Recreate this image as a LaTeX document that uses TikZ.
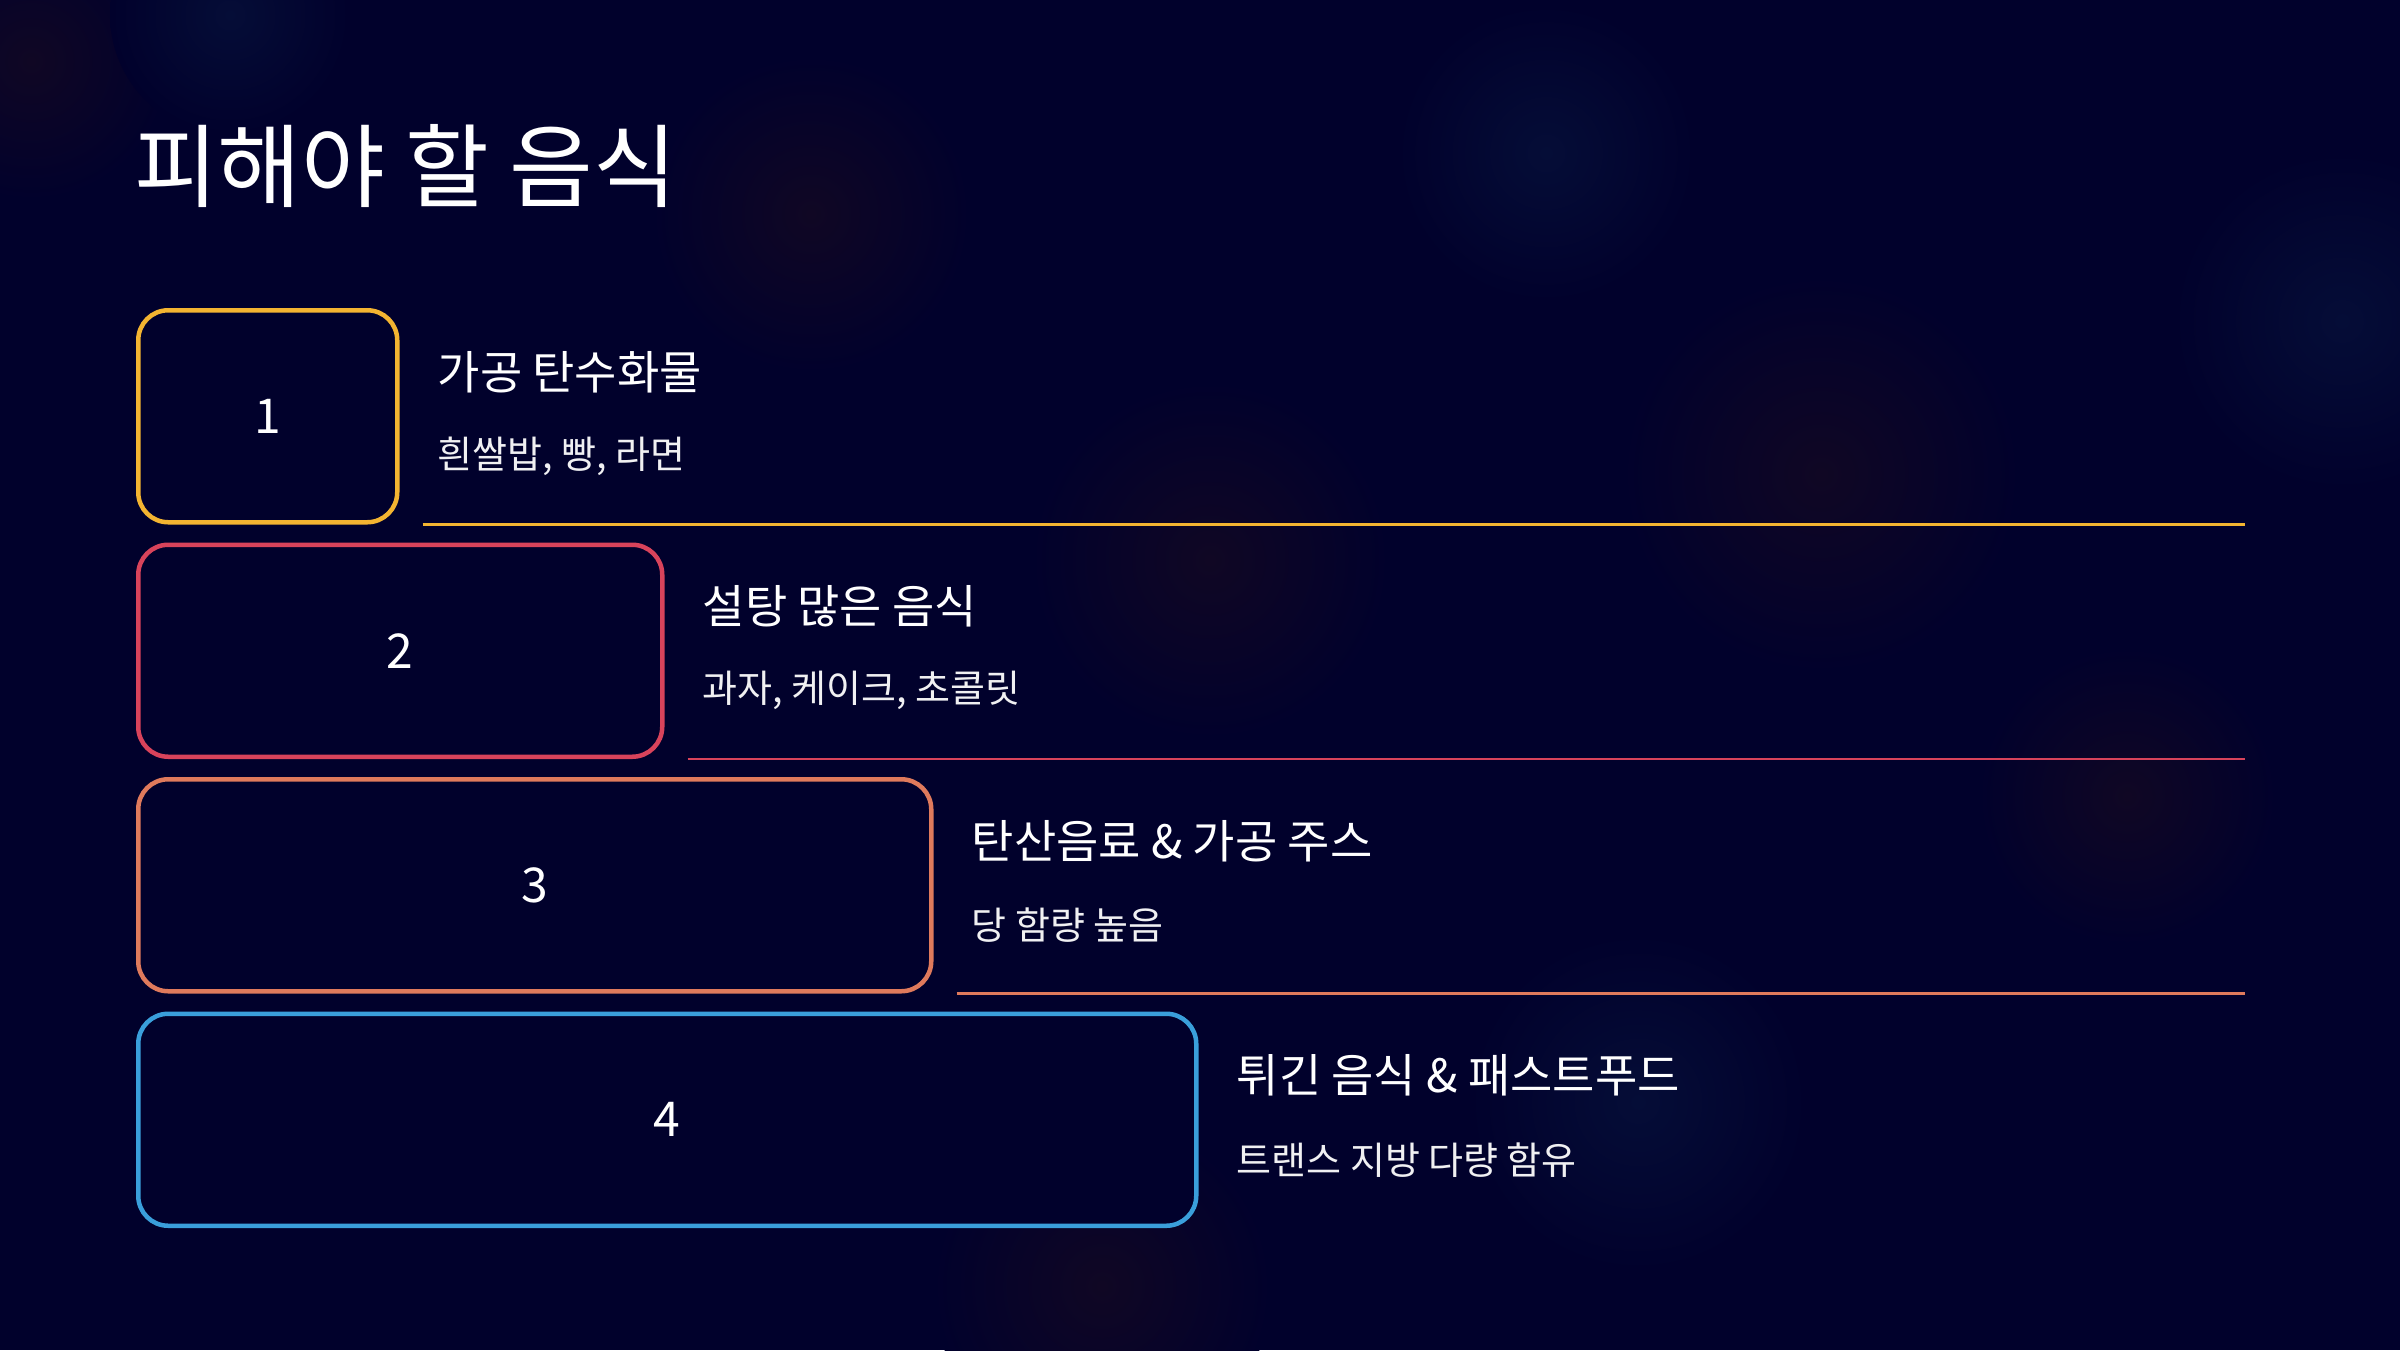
\documentclass[tikz,border=0pt]{standalone}
\usepackage{fontspec}
\setmainfont{Noto Sans CJK KR}
\usetikzlibrary{positioning}
\definecolor{bgnavy}{HTML}{01012C}
\definecolor{boxgold}{HTML}{F3B431}
\definecolor{boxred}{HTML}{D8435B}
\definecolor{boxcoral}{HTML}{DF7A5C}
\definecolor{boxsky}{HTML}{3A9FDB}
\definecolor{glowblue}{HTML}{050D37}
\definecolor{glowwarm}{HTML}{100724}
\begin{document}
\begin{tikzpicture}[x=1pt, y=-1pt, node distance=18pt,
          numbox/.style={rectangle, draw=#1, fill=bgnavy, line width=4.5pt, rounded corners=30pt, minimum height=212pt, text=white, font=\fontsize{48}{58}\selectfont},
          titletxt/.style={inner sep=0pt, text=white, font=\fontsize{91}{106}\selectfont},
          headtxt/.style={inner sep=0pt, text=white, font=\fontsize{46}{55}\selectfont},
          subtxt/.style={inner sep=0pt, text=white!94!bgnavy, font=\fontsize{38}{46}\selectfont},
          sepline/.style={draw=#1, line width=2.5pt}]
        \useasboundingbox (0,0) rectangle (2400,1350);
        \fill [bgnavy] (0,0) rectangle (2400,1350);
        \shade [inner color=glowblue, outer color=bgnavy] (2342,321) circle (170);
        \shade [inner color=glowwarm, outer color=bgnavy] (1821,474) circle (200);
        \shade [inner color=glowwarm, outer color=bgnavy] (1210,560) circle (180);
        \shade [inner color=glowwarm, outer color=bgnavy] (811,214) circle (160);
        \shade [inner color=glowblue, outer color=bgnavy] (1546,153) circle (150);
        \shade [inner color=glowwarm, outer color=bgnavy] (1102,1286) circle (170);
        \shade [inner color=glowblue, outer color=bgnavy] (1638,1102) circle (170);
        \shade [inner color=glowwarm, outer color=bgnavy] (31,61) circle (140);
        \shade [inner color=glowblue, outer color=bgnavy] (230,15) circle (120);
        \shade [inner color=glowwarm, outer color=bgnavy] (2127,796) circle (150);

        \node [titletxt, anchor=west] (title) at (134,166) {피해야 할 음식};

        \node [numbox=boxgold, minimum width=259pt, anchor=north west] (n1) at (136,308) {1};
        \node [numbox=boxred, minimum width=524pt, below right=18pt and 0pt of n1.south west] (n2) {2};
        \node [numbox=boxcoral, minimum width=793pt, below right=18pt and 0pt of n2.south west] (n3) {3};
        \node [numbox=boxsky, minimum width=1058pt, below right=18pt and 0pt of n3.south west] (n4) {4};

        \node [headtxt, right=38pt of n1.east, yshift=44pt] (h1) {가공 탄수화물};
        \node [subtxt, right=38pt of n1.east, yshift=-40pt] (d1) {흰쌀밥, 빵, 라면};
        \node [headtxt, right=38pt of n2.east, yshift=44pt] (h2) {설탕 많은 음식};
        \node [subtxt, right=38pt of n2.east, yshift=-40pt] (d2) {과자, 케이크, 초콜릿};
        \node [headtxt, right=38pt of n3.east, yshift=44pt] (h3) {탄산음료 \& 가공 주스};
        \node [subtxt, right=38pt of n3.east, yshift=-40pt] (d3) {당 함량 높음};
        \node [headtxt, right=38pt of n4.east, yshift=44pt] (h4) {튀긴 음식 \& 패스트푸드};
        \node [subtxt, right=38pt of n4.east, yshift=-40pt] (d4) {트랜스 지방 다량 함유};

        \coordinate (rim) at (2245,0);
        \draw [sepline=boxgold] ([xshift=23pt]n1.south east) -- (n1.south east -| rim);
        \draw [sepline=boxred] ([xshift=23pt]n2.south east) -- (n2.south east -| rim);
        \draw [sepline=boxcoral] ([xshift=23pt]n3.south east) -- (n3.south east -| rim);
      \end{tikzpicture}
\end{document}
